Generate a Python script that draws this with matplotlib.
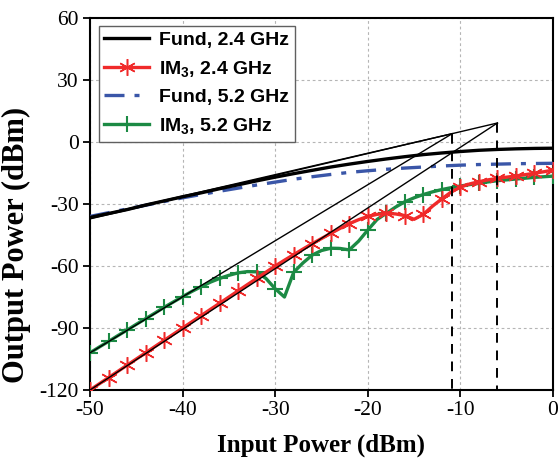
import numpy as np
import matplotlib.pyplot as plt

plt.rcParams['axes.unicode_minus'] = False
plt.rcParams['mathtext.fontset'] = 'custom'
plt.rcParams['mathtext.rm'] = 'Liberation Sans:bold'
plt.rcParams['mathtext.it'] = 'Liberation Sans:bold'
plt.rcParams['mathtext.bf'] = 'Liberation Sans:bold'

# input power sweeps
pin_fund = np.arange(-50, 1, 2)
pin_im3 = np.arange(-50, 1, 1)

# fundamental output (dBm), 2 dB steps
fund_24 = [-36.5, -34.6, -32.7, -30.5, -28.5, -26.5, -24.6, -22.6, -20.7, -18.8,
           -17.0, -15.3, -13.7, -12.1, -10.7, -9.4, -8.2, -7.1, -6.1, -5.3,
           -4.6, -4.0, -3.6, -3.3, -3.1, -3.0]
fund_52 = [-36.0, -34.2, -32.4, -30.6, -28.8, -27.0, -25.4, -23.8, -22.3, -20.8,
           -19.4, -18.0, -16.8, -15.7, -14.7, -13.9, -13.2, -12.6, -12.1, -11.6,
           -11.2, -10.9, -10.7, -10.5, -10.4, -10.3]

# IM3 output (dBm), 1 dB steps
im3_24 = [-120, -117, -114, -111, -108, -105, -102, -99, -96, -93,
          -90, -87, -84, -81, -78, -75, -72, -69, -66, -63,
          -60, -57.2, -54.5, -51.8, -49.2, -46.7, -44.2, -41.8, -39.5, -37.6,
          -36.0, -35.0, -34.5, -34.8, -35.6, -37.4, -35.0, -31.0, -27.5, -24.2,
          -21.8, -20.3, -19.2, -18.3, -17.6, -17.0, -16.4, -15.8, -15.1, -14.4,
          -13.6]
im3_52 = [-102, -99.2, -96.5, -93.7, -91, -88.2, -85.5, -82.8, -80, -77.4,
          -74.8, -72.3, -70, -67.8, -66, -64.5, -63.3, -62.7, -62.8, -66,
          -71, -75, -63, -58.5, -54.7, -52.5, -51.4, -51.5, -52.2, -48,
          -42.6, -37.5, -34.5, -31.5, -28.9, -27, -25.4, -24.1, -23, -22.1,
          -21.3, -20.6, -20, -19.3, -18.7, -18.3, -17.9, -17.5, -17.1, -16.8,
          -16.5]

# IP3 intercepts: (input, output) and extrapolation start points
iip3 = [-10.9, -6.0]
oip3 = [4.0, 9.2]
fund_start = [-36.5, -37.2]
im3_start = [-102, -120]

fig = plt.figure(figsize=(5.58, 4.69), dpi=100)
ax = fig.add_axes([0.1613, 0.1684, 0.8297, 0.7932])

red = '#f02a2a'
green = '#1c8a44'
blue = '#3a56a8'

ax.plot(pin_fund, fund_24, color='black', lw=2.4, label='Fund, 2.4 GHz', zorder=4)
ax.plot(pin_im3, im3_24, color=red, lw=2.4, marker=(6, 2, 0), ms=12, mew=1.1,
        markevery=2, label='IM$_3$, 2.4 GHz', zorder=4)
l, = ax.plot(pin_fund, fund_52, color=blue, lw=2.4, label='Fund, 5.2 GHz', zorder=3)
l.set_dashes([6, 3, 1.5, 3])
ax.plot(pin_im3, im3_52, color=green, lw=2.4, marker='+', ms=11, mew=1.5,
        markevery=2, label='IM$_3$, 5.2 GHz', zorder=3)

# extrapolated lines to the intercept points
for xi, yi, fs, ims in zip(iip3, oip3, fund_start, im3_start):
    ax.plot([-50, xi], [fs, yi], color='black', lw=1.0, zorder=5)
    ax.plot([-50, xi], [ims, yi], color='black', lw=1.0, zorder=5)
    ax.plot([xi, xi], [yi, -120], color='black', lw=1.4, dashes=(5, 4), zorder=5)

ax.set_xlim(-50, 0)
ax.set_ylim(-120, 60)
ax.set_xticks(np.arange(-50, 1, 10))
ax.set_yticks(np.arange(-120, 61, 30))
ax.grid(True, color='#b5b5b5', lw=0.8, linestyle=(0, (2.5, 2.5)))
ax.set_axisbelow(True)
for s in ax.spines.values():
    s.set_linewidth(1.5)
ax.tick_params(direction='out', length=5, width=1.3, labelsize=15.5, pad=3)
for t in ax.get_xticklabels() + ax.get_yticklabels():
    t.set_fontfamily('Liberation Serif')

ax.set_xlabel('Input Power (dBm)', fontsize=18, fontweight='bold',
              fontfamily='Liberation Serif', labelpad=10)
ax.set_ylabel('Output Power (dBm)', fontsize=22, fontweight='bold',
              fontfamily='Liberation Serif')
ax.yaxis.set_label_coords(-0.128, 0.39)

leg = ax.legend(loc='upper left', bbox_to_anchor=(0.01, 0.99), numpoints=1,
                prop={'family': 'Liberation Sans', 'weight': 'bold', 'size': 14},
                handlelength=2.3, handletextpad=0.5, labelspacing=0.5,
                borderpad=0.3, borderaxespad=0.2, fancybox=False, framealpha=1)
leg.get_frame().set_edgecolor('#606060')
leg.get_frame().set_linewidth(1.0)

fig.savefig('out.png', dpi=100)
